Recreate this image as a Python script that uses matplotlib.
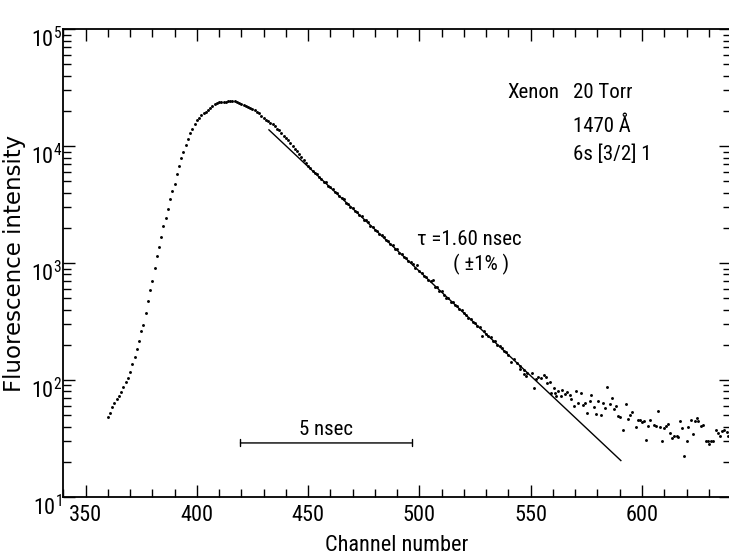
import numpy as np
import matplotlib
matplotlib.use("Agg")
import matplotlib.pyplot as plt
from matplotlib import font_manager as fm
from matplotlib.transforms import ScaledTranslation

# pick a narrow lettering font if one is installed
names = {f.name for f in fm.fontManager.ttflist}
font = "DejaVu Sans"
stretch = "normal"
for cand in ["Liberation Sans Narrow", "DejaVu Sans Condensed", "Roboto Condensed", "Open Sans Condensed"]:
    if cand in names:
        font = cand
        break
else:
    if any(f.name == "DejaVu Sans" and f.stretch == "condensed" for f in fm.fontManager.ttflist):
        stretch = "condensed"
    elif "Liberation Sans" in names:
        font = "Liberation Sans"

plt.rcParams["font.family"] = [font, "DejaVu Sans"]
plt.rcParams["font.stretch"] = stretch
plt.rcParams["mathtext.fontset"] = "custom"
plt.rcParams["mathtext.rm"] = font
plt.rcParams["mathtext.it"] = font

# data: log10 of counts per channel
rise_channel = np.arange(360, 451)
rise_log = [1.68, 1.72, 1.77, 1.80, 1.84, 1.86, 1.90, 1.94, 1.98, 2.02,
            2.07, 2.14, 2.20, 2.27, 2.33, 2.42, 2.47, 2.57, 2.68, 2.77,
            2.85, 2.96, 3.06, 3.14, 3.22, 3.32, 3.39, 3.46, 3.55, 3.62,
            3.68, 3.76, 3.83, 3.90, 3.95, 4.01, 4.06, 4.11, 4.15, 4.19,
            4.22, 4.245, 4.265, 4.28, 4.295, 4.31, 4.325, 4.345, 4.36, 4.37,
            4.375, 4.378, 4.38, 4.381, 4.383, 4.385, 4.387, 4.385, 4.379, 4.372,
            4.364, 4.356, 4.347, 4.338, 4.328, 4.32, 4.307, 4.295, 4.28, 4.26,
            4.24, 4.225, 4.215, 4.2, 4.187, 4.17, 4.15, 4.136, 4.115, 4.09,
            4.068, 4.05, 4.025, 4.0, 3.975, 3.955, 3.93, 3.91, 3.885, 3.86,
            3.83]

decay_channel = np.arange(451, 541)
decay_log = [3.815, 3.792, 3.770, 3.760, 3.735, 3.722, 3.698, 3.690, 3.660, 3.650,
             3.632, 3.608, 3.600, 3.572, 3.560, 3.545, 3.515, 3.510, 3.480, 3.475,
             3.448, 3.440, 3.412, 3.400, 3.372, 3.365, 3.350, 3.320, 3.312, 3.285,
             3.278, 3.250, 3.240, 3.222, 3.195, 3.190, 3.160, 3.155, 3.125, 3.118,
             3.088, 3.080, 3.052, 3.048, 3.015, 3.010, 2.990, 2.962, 2.985, 2.930,
             2.918, 2.892, 2.885, 2.855, 2.848, 2.855, 2.800, 2.795, 2.765, 2.760,
             2.730, 2.700, 2.705, 2.672, 2.668, 2.640, 2.633, 2.605, 2.598, 2.570,
             2.560, 2.532, 2.525, 2.498, 2.490, 2.462, 2.455, 2.375, 2.418, 2.390,
             2.375, 2.365, 2.338, 2.330, 2.300, 2.295, 2.272, 2.250, 2.240, 2.215]

tail_channel = [541.2, 542.7, 543.9, 545.0, 545.4, 546.9, 547.2, 548.0, 548.4, 550.5,
                551.3, 552.5, 553.2, 554.4, 555.9, 557.0, 557.4, 558.5, 558.9, 560.4,
                560.7, 561.5, 562.2, 563.4, 564.2, 565.2, 566.4, 567.5, 568.2, 569.4,
                570.2, 571.2, 572.7, 573.5, 574.5, 575.4, 576.5, 577.2, 578.4, 579.2,
                580.2, 581.4, 582.5, 583.5, 584.4, 585.5, 586.5, 587.4, 588.5, 589.0,
                590.0, 591.5, 592.6, 593.5, 594.5, 595.3, 597.1, 598.3, 599.0, 599.8,
                601.0, 601.6, 602.8, 603.5, 605.5, 606.1, 607.0, 608.0, 608.8, 609.8,
                610.6, 611.5, 612.5, 613.6, 614.5, 615.5, 616.3, 617.0, 618.1, 619.0,
                620.0, 620.8, 622.0, 623.0, 623.8, 624.5, 625.3, 626.5, 627.5, 628.6,
                629.5, 630.1, 631.0, 632.0, 633.1, 634.3, 635.0, 635.8, 637.0, 638.0,
                638.8, 639.5]
tail_log = [2.151, 2.179, 2.145, 2.122, 2.094, 2.082, 2.051, 2.031, 2.060, 2.060,
            1.931, 2.008, 2.023, 2.017, 2.045, 2.023, 1.974, 1.980, 1.889, 1.931,
            1.889, 1.866, 1.903, 1.860, 1.917, 1.880, 1.897, 1.874, 1.837, 1.780,
            1.903, 1.803, 1.889, 1.789, 1.803, 1.718, 1.823, 1.874, 1.769, 1.712,
            1.817, 1.704, 1.803, 1.760, 1.937, 1.797, 1.846, 1.752, 1.780, 1.695,
            1.684, 1.570, 1.797, 1.666, 1.704, 1.723, 1.598, 1.655, 1.655, 1.638,
            1.647, 1.490, 1.604, 1.661, 1.618, 1.604, 1.732, 1.598, 1.476, 1.590,
            1.604, 1.624, 1.547, 1.504, 1.518, 1.518, 1.513, 1.647, 1.590, 1.353,
            1.476, 1.595, 1.655, 1.538, 1.647, 1.675, 1.647, 1.604, 1.618, 1.476,
            1.476, 1.456, 1.476, 1.476, 1.575, 1.547, 1.524, 1.561, 1.570, 1.553,
            1.524, 1.575]

# exponential fit (tau = 1.60 nsec) end points
fit_channel = [432.4, 590.5]
fit_counts = [13800, 20.5]

# 5 nsec scale bar
bar_channel = [419.6, 496.5]
bar_counts = 29

channel = np.concatenate([rise_channel, decay_channel, tail_channel])
counts = 10 ** np.concatenate([rise_log, decay_log, tail_log])

fig = plt.figure(figsize=(7.29, 5.58), dpi=100)
ax = fig.add_axes([0.0868, 0.1093, 0.9160, 0.8382])

ax.plot(channel, counts, "o", color="black", ms=2.1, mew=0)
ax.plot(fit_channel, fit_counts, color="black", lw=1.0)

ax.set_yscale("log")
ax.set_xlim(340, 640)
ax.set_ylim(10, 1e5)

ax.set_xticks(np.arange(350, 601, 50))
ax.set_xticks(np.arange(340, 641, 10), minor=True)
ax.set_yticks([10, 100, 1000, 10000, 100000])
ax.set_yticklabels([r"$10^{1}$", r"$10^{2}$", r"$10^{3}$", r"$10^{4}$", r"$10^{5}$"])
ax.tick_params(which="both", direction="in", top=True, right=True, width=1.0)
ax.tick_params(which="major", length=8.5, labelsize=16, pad=6)
ax.tick_params(which="minor", length=5.5)
ax.tick_params(axis="y", which="major", pad=1)
for lab in ax.get_yticklabels():
    lab.set_transform(lab.get_transform() + ScaledTranslation(0, -8 / 100, fig.dpi_scale_trans))
ax.spines["right"].set_visible(False)
for s in ["left", "bottom", "top"]:
    ax.spines[s].set_linewidth(1.3)

ax.set_xlabel("Channel number", fontsize=16, labelpad=6)
ax.set_ylabel("Fluorescence intensity", fontsize=16.5, labelpad=3, family="DejaVu Sans")

ax.text(539.7, 25900, "Xenon", fontsize=15, ha="left", va="baseline")
ax.text(568.9, 25900, "20 Torr", fontsize=15, ha="left", va="baseline")
ax.text(568.9, 13250, "1470 Å", fontsize=15, ha="left", va="baseline")
ax.text(568.9, 7640, "6s [3/2] 1", fontsize=15, ha="left", va="baseline")

ax.text(499, 1430, "τ =1.60 nsec", fontsize=15, ha="left", va="baseline")
ax.text(515, 877, "( ±1% )", fontsize=15, ha="left", va="baseline")

ax.annotate("", xy=(bar_channel[0], bar_counts), xytext=(bar_channel[1], bar_counts),
            arrowprops=dict(arrowstyle="|-|, widthA=0.25, widthB=0.25", color="black", lw=1.0,
                            shrinkA=0, shrinkB=0))
ax.text(sum(bar_channel) / 2, bar_counts * 1.08, "5 nsec", fontsize=15, ha="center", va="bottom")

fig.savefig("out.png", dpi=100)
